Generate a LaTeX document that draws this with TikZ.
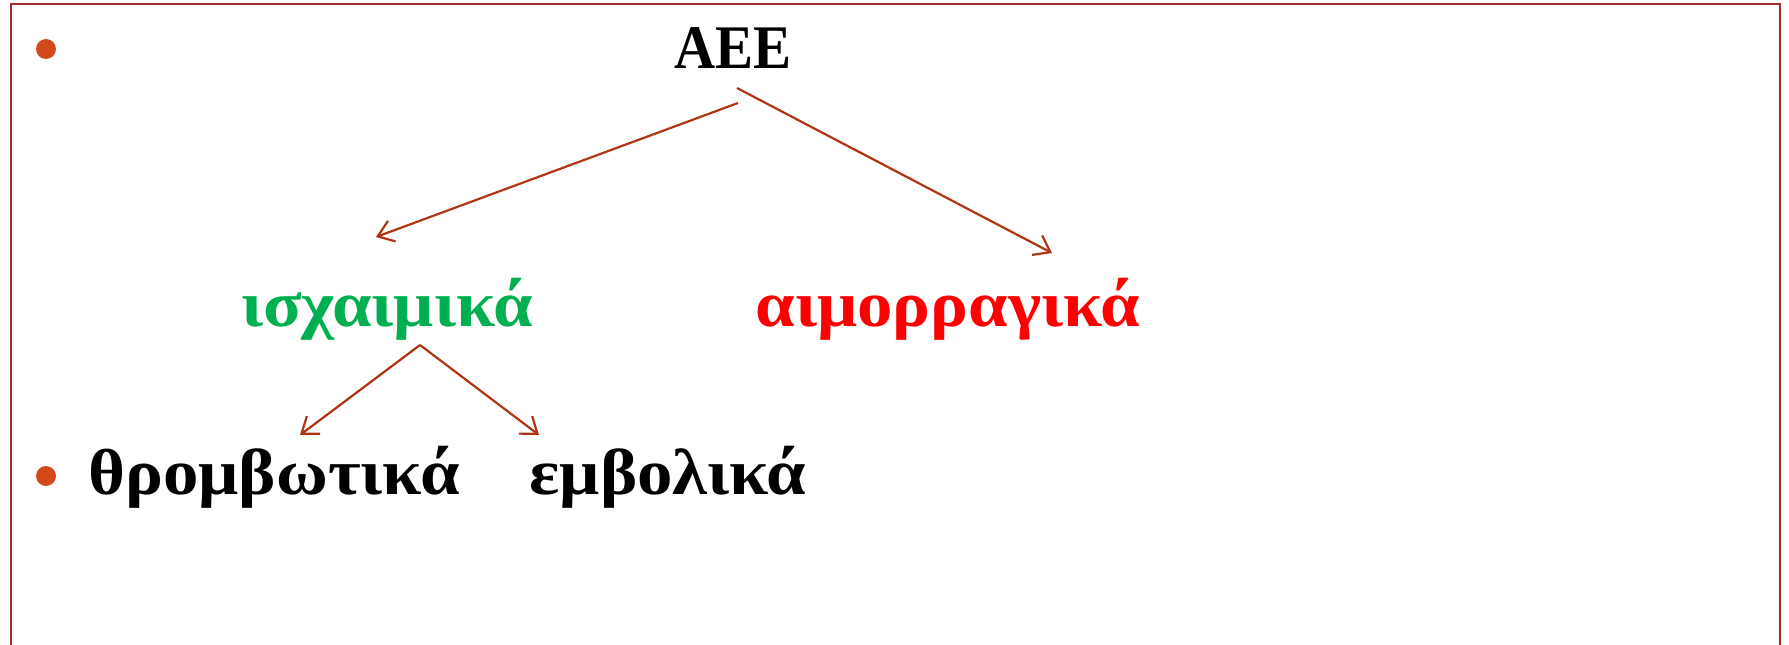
\documentclass[tikz,border=0pt]{standalone}
\usepackage{fontspec}
\setmainfont{Liberation Serif}
\newfontfamily\widefont[FakeStretch=1.09]{Liberation Serif}
\newfontfamily\narrowfont[FakeStretch=0.92]{Liberation Serif}
\usetikzlibrary{arrows.meta}
\definecolor{framered}{HTML}{A0302A}
\definecolor{arrowred}{HTML}{B03514}
\definecolor{bulletred}{HTML}{D24A1A}
\definecolor{ischgreen}{HTML}{00B050}
\begin{document}
\begin{tikzpicture}
  [x=1pt,y=-1pt,
   every node/.style={inner sep=0pt,font=\fontsize{65}{72}\selectfont\widefont\bfseries},
   arr/.style={draw=arrowred,line width=2.2pt,-{Straight Barb[length=15pt,width=22pt]}},
   bulletdot/.style={circle,fill=bulletred,minimum size=20pt}]
  \useasboundingbox (0,0) rectangle (1789,645);
  \draw[framered,line width=2.8pt] (11,660) -- (11,4) -- (1780,4) -- (1780,660);
  \node[bulletdot] (b1) at (46,49) {};
  \node[bulletdot] (b2) at (46,476) {};
  \node[anchor=base,font=\fontsize{62}{70}\selectfont\narrowfont\bfseries] (aee) at (733,68) {AEE};
  \node[anchor=base,text=ischgreen] (isch) at (387,326) {ισχαιμικά};
  \node[anchor=base,text=red] (haem) at (948,326) {αιμορραγικά};
  \node[anchor=base] (throm) at (274,494) {θρομβωτικά};
  \node[anchor=base] (embol) at (668,494) {εμβολικά};
  % arrow ends
  \coordinate (s1) at (738,103);
  \coordinate (s2) at (737,88);
  \coordinate (s3) at (420,345);
  \coordinate (e1) at (376,237);
  \coordinate (e2) at (1052,253);
  \coordinate (e3) at (300,435);
  \coordinate (e4) at (539,435);

   \foreach \from/\to in {s1/e1,s2/e2,s3/e3,s3/e4}
    \draw[arr] (\from) -- (\to);
\end{tikzpicture}
\end{document}
